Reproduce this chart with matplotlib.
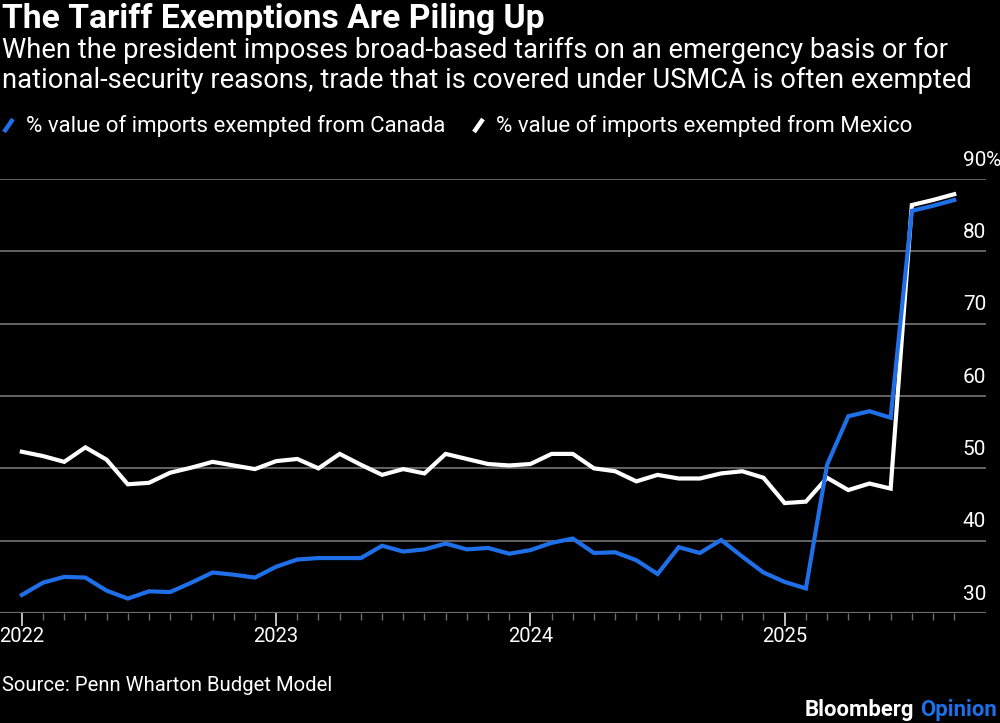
import numpy as np
import pandas as pd
import matplotlib
matplotlib.use('Agg')
import matplotlib.pyplot as plt
from matplotlib.lines import Line2D

plt.rcParams['font.family'] = ['Roboto', 'DejaVu Sans']

BLUE = '#1f6fe8'
GRID = '#6b6b6b'

# Data (monthly, Jan 2022 - Sep 2025)
months = pd.date_range('2022-01-01', '2025-09-01', freq='MS')
canada = [32.5, 34.2, 35.0, 34.9, 33.1, 32.0, 33.0, 32.9, 34.2, 35.6, 35.3, 34.9,
          36.4, 37.4, 37.6, 37.6, 37.6, 39.3, 38.5, 38.8, 39.6, 38.8, 39.0, 38.2,
          38.7, 39.7, 40.3, 38.3, 38.4, 37.3, 35.4, 39.1, 38.3, 40.1, 37.8, 35.6,
          34.3, 33.4, 50.5, 57.2, 57.9, 57.0, 85.6, 86.3, 87.1]
mexico = [52.3, 51.7, 50.9, 52.9, 51.2, 47.8, 48.0, 49.4, 50.1, 50.9, 50.4, 49.9,
          51.0, 51.3, 50.0, 52.0, 50.5, 49.1, 49.9, 49.3, 52.0, 51.3, 50.6, 50.4,
          50.6, 52.0, 52.0, 50.0, 49.6, 48.2, 49.1, 48.6, 48.6, 49.3, 49.6, 48.7,
          45.2, 45.4, 48.7, 47.0, 47.9, 47.2, 86.4, 87.1, 87.9]
y_ticks = [30, 40, 50, 60, 70, 80, 90]
year_labels = ['2022', '2023', '2024', '2025']
series_names = ['% value of imports exempted from Canada',
                '% value of imports exempted from Mexico']

x = np.arange(len(months))

fig = plt.figure(figsize=(10, 7.23), dpi=100, facecolor='black')
ax = fig.add_axes([0.0, 0.1521, 0.986, 0.6003], facecolor='black')
W, H = 1000.0, 723.0


def fit(t, width_px):
    # scale a text so it spans width_px
    fig.canvas.draw()
    w = t.get_window_extent().width
    t.set_fontsize(t.get_fontsize() * width_px / w)


for v in y_ticks[1:]:
    ax.axhline(v, color=GRID, lw=1.3, zorder=1)
ax.axhline(30, color=GRID, lw=1.6, zorder=1)

ax.plot(x, mexico, color='white', lw=3.0, solid_joinstyle='miter', zorder=3)
ax.plot(x, canada, color=BLUE, lw=3.0, solid_joinstyle='miter', zorder=4)

ax.set_xlim(-1.03, 45.5)
ax.set_ylim(30, 90)
for s in ax.spines.values():
    s.set_visible(False)
ax.set_yticks([])
year_pos = [i for i, m in enumerate(months) if m.month == 1]
ax.set_xticks(year_pos)
ax.set_xticklabels(year_labels, color='white', fontsize=14.5)
ax.set_xticks(x, minor=True)
ax.tick_params(axis='x', which='major', length=9, width=1.3, color='#cccccc', pad=1)
ax.tick_params(axis='x', which='minor', length=5, width=1.0, color=GRID)

# y labels sitting above gridlines, right aligned
for v in y_ticks:
    ax.text(1.0, v + 1.3, str(v), transform=ax.get_yaxis_transform(),
            ha='right', va='bottom', color='white', fontsize=15)
    if v == 90:
        ax.text(1.0, v + 1.3, '%', transform=ax.get_yaxis_transform(),
                ha='left', va='bottom', color='white', fontsize=15)

title = fig.text(2 / W, 1 - 28 / H, 'The Tariff Exemptions Are Piling Up', color='white',
                 fontsize=18, fontweight='bold', ha='left', va='baseline')
fit(title, 543)
sub1 = fig.text(2 / W, 1 - 58 / H,
                'When the president imposes broad-based tariffs on an emergency basis or for',
                color='white', fontsize=18, ha='left', va='baseline')
fit(sub1, 948)
sub2 = fig.text(2 / W, 1 - 88 / H,
                'national-security reasons, trade that is covered under USMCA is often exempted',
                color='white', fontsize=sub1.get_fontsize(), ha='left', va='baseline')

# legend: thick slash + label
leg_size = 15
for x0, name, col in [(4, series_names[0], BLUE), (474, series_names[1], 'white')]:
    fig.add_artist(Line2D([x0 / W, (x0 + 9) / W], [1 - 132 / H, 1 - 119 / H],
                          color=col, lw=3.2, solid_capstyle='butt'))
    lt = fig.text((x0 + 22) / W, 1 - 132 / H, name, color='white', fontsize=leg_size,
                  ha='left', va='baseline')
    if x0 == 4:
        fit(lt, 421)
        leg_size = lt.get_fontsize()

src = fig.text(2 / W, 1 - 691 / H, 'Source: Penn Wharton Budget Model', color='white',
               fontsize=15, ha='left', va='baseline')
fit(src, 331)
t1 = fig.text(997 / W, 1 - 716 / H, 'Opinion', color=BLUE, fontsize=15,
              fontweight='bold', ha='right', va='baseline')
fit(t1, 77)
fig.canvas.draw()
bb = t1.get_window_extent()
t2 = fig.text((bb.x0 - 6) / W, 1 - 716 / H, 'Bloomberg', color='white',
              fontsize=t1.get_fontsize(), fontweight='bold', ha='right', va='baseline')

fig.savefig('out.png', dpi=100, facecolor='black')
